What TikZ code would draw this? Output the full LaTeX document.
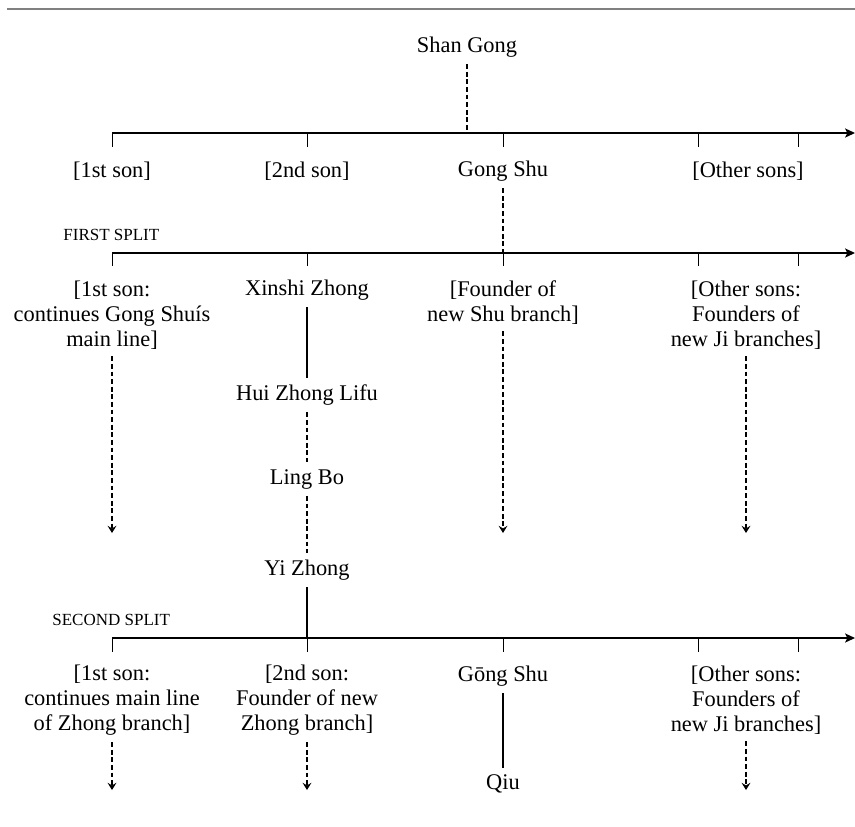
\documentclass[tikz,border=0pt]{standalone}
\usepackage{fontspec}
\setmainfont{Liberation Serif}
\usetikzlibrary{arrows.meta,positioning}
\tikzstyle{person} = [align=center, font=\fontsize{11.2}{12.5}\selectfont]
\tikzstyle{split} = [anchor=west, inner sep=0pt, font=\fontsize{8.5}{10}\selectfont]
\tikzstyle{axis} = [line width=0.65pt,->,>={Stealth[length=5pt,width=4.6pt,inset=1.2pt]}]
\tikzstyle{tick} = [line width=0.5pt]
\tikzstyle{solidline} = [line width=0.55pt]
\tikzstyle{broken} = [line width=0.6pt, dash pattern=on 2.4pt off 1.4pt]
\tikzstyle{descent} = [broken,->,>={Stealth[length=3.6pt,width=4.4pt,inset=1.3pt]}]
\begin{document}
\begin{tikzpicture}[x=0.5pt, y=-0.5pt, node distance=52.5pt]
    \useasboundingbox (0,0) rectangle (855,826);
    \draw [line width=1.2pt, gray] (7,9) -- (855,9);

    % first generation
    \node (shan) [person] at (467,47) {Shan Gong};
    \coordinate (root) at (467,133);
    \coordinate (a1s) at (112,133);
    \coordinate (a1e) at (855,133);
    \draw [axis] (a1s) -- (a1e);
    \draw [tick] (112,133) -- (112,147) (307,133) -- (307,147) (503,133) -- (503,147)
                 (698,133) -- (698,147) (798,133) -- (798,147);
    \draw [broken] (shan) -- (root);
    \node (sonA) [person] at (112,171) {[1st son]};
    \node (sonB) [person] at (307,171) {[2nd son]};
    \node (gongshu) [person] at (503,171) {Gong Shu};
    \node (othersA) [person] at (748,171) {[Other sons]};

    % first split
    \node (firstsplit) [split] at (63,235) {FIRST SPLIT};
    \coordinate (a2s) at (112,253);
    \coordinate (a2e) at (855,253);
    \coordinate (a2g) at (503,253);
    \draw [axis] (a2s) -- (a2e);
    \draw [tick] (112,253) -- (112,266) (307,253) -- (307,266) (503,253) -- (503,266)
                 (698,253) -- (698,266) (798,253) -- (798,266);
    \draw [broken] (gongshu) -- (a2g);
    \node (mainline) [person] at (112,315) {[1st son:\\continues Gong Shuís\\main line]};
    \node (xinshi) [person] at (307,290) {Xinshi Zhong};
    \node (shubranch) [person] at (503,302.5) {[Founder of\\new Shu branch]};
    \node (jiA) [person] at (746,315) {[Other sons:\\Founders of\\new Ji branches]};
    \node (huizhong) [person, below of=xinshi] {Hui Zhong Lifu};
    \node (lingbo) [person, below of=huizhong, node distance=42pt] {Ling Bo};
    \node (yizhong) [person, below of=lingbo, node distance=45.5pt] {Yi Zhong};

    \coordinate (endA) at (112,533);
    \coordinate (endB) at (503,533);
    \coordinate (endC) at (746,533);
    \draw [descent] (mainline) -- (endA);
    \draw [descent] (shubranch) -- (endB);
    \draw [descent] (jiA) -- (endC);
    \draw [solidline] (xinshi) -- (huizhong);
    \draw [broken] (huizhong) -- (lingbo);
    \draw [broken] (lingbo) -- (yizhong);

    % second split
    \node (secondsplit) [split] at (52,620) {SECOND SPLIT};
    \coordinate (a3s) at (112,638);
    \coordinate (a3e) at (855,638);
    \coordinate (a3y) at (307,638);
    \draw [axis] (a3s) -- (a3e);
    \draw [tick] (112,638) -- (112,652) (307,638) -- (307,652) (503,638) -- (503,652)
                 (698,638) -- (698,652) (798,638) -- (798,652);
    \draw [solidline] (yizhong) -- (a3y);
    \node (zhongmain) [person] at (112,700) {[1st son:\\continues main line\\of Zhong branch]};
    \node (zhongnew) [person] at (307,700) {[2nd son:\\Founder of new\\Zhong branch]};
    \node (gongshu2) [person] at (503,676) {Gōng Shu};
    \node (jiB) [person] at (746,700) {[Other sons:\\Founders of\\new Ji branches]};
    \node (qiu) [person, below of=gongshu2, node distance=54pt] {Qiu};

    \coordinate (endD) at (112,790);
    \coordinate (endE) at (307,790);
    \coordinate (endF) at (746,790);
    \draw [descent] (zhongmain) -- (endD);
    \draw [descent] (zhongnew) -- (endE);
    \draw [descent] (jiB) -- (endF);
    \draw [solidline] (gongshu2) -- (qiu);
\end{tikzpicture}
\end{document}
